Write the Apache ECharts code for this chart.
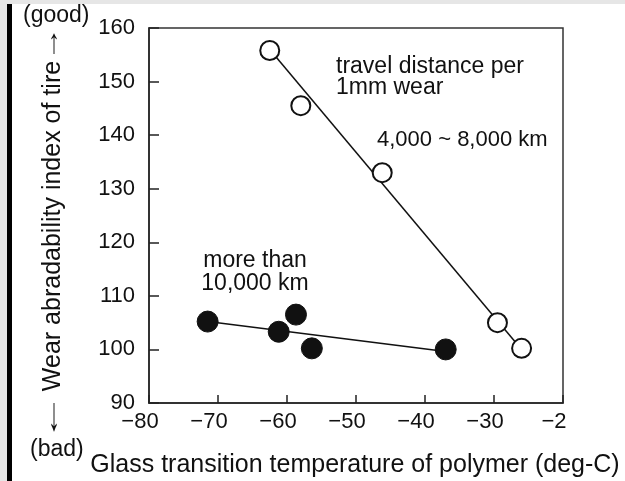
<!DOCTYPE html>
<html>
<head>
<meta charset="utf-8">
<script src="https://cdn.jsdelivr.net/npm/echarts@6/dist/echarts.min.js"></script>
<style>
html,body{margin:0;padding:0;background:#fff;}
#c{width:625px;height:481px;}
</style>
</head>
<body>
<div id="c"></div>
<script>
// ---- data ----
var openPoints = [[-62.5,155.8],[-58,145.5],[-46.2,133],[-29.5,105],[-26,100.2]];
var filledPoints = [[-71.5,105.2],[-61.2,103.3],[-58.7,106.5],[-56.4,100.2],[-37,100]];
var openFit = [[-62.5,156],[-26,100]];
var filledFit = [[-71.5,105.2],[-37,99.6]];
var xTickValues = [-80,-70,-60,-50,-40,-30,-20];
var xTickLabels = ['\u221280','\u221270','\u221260','\u221250','\u221240','\u221230','\u22122'];
var yTickValues = [90,100,110,120,130,140,150,160];
var yTickLabels = ['90','100','110','120','130','140','150','160'];
var yTitle = 'Wear abradability index of tire';
var upArrow = '\u2191';
var downArrow = '\u2193';
var xTitle = 'Glass transition temperature of polymer (deg-C)';
var goodLabel = '(good)';
var badLabel = '(bad)';
var annOpen1 = 'travel distance per\n1mm wear';
var annOpen2 = '4,000 ~ 8,000 km';
var annFilled = 'more than\n10,000 km';

var font = 'Liberation Sans, Arial, sans-serif';
var chart = echarts.init(document.getElementById('c'), null, {renderer:'canvas'});
chart.setOption({
  animation:false,
  backgroundColor:'#fff',
  grid:{left:149,right:62,top:28,bottom:78,show:true,borderColor:'#333',borderWidth:1.5,backgroundColor:'transparent'},
  xAxis:{type:'value',min:-80,max:-20,interval:10,
    axisLine:{show:true,onZero:false,lineStyle:{color:'#222',width:1.5}},
    axisTick:{show:true,inside:true,length:8,lineStyle:{color:'#222',width:1.5}},
    splitLine:{show:false},
    axisLabel:{color:'#111',fontFamily:font,fontSize:22,margin:8,padding:[0,18,0,0],
      formatter:function(v){var i=xTickValues.indexOf(v);return i>=0?xTickLabels[i]:'';}}
  },
  yAxis:{type:'value',min:90,max:160,interval:10,
    axisLine:{show:true,onZero:false,lineStyle:{color:'#222',width:1.5}},
    axisTick:{show:true,inside:true,length:10,lineStyle:{color:'#222',width:1.5}},
    splitLine:{show:false},
    axisLabel:{color:'#111',fontFamily:font,fontSize:22,margin:14,
      formatter:function(v){var i=yTickValues.indexOf(v);return i>=0?yTickLabels[i]:'';}}
  },
  series:[
    {type:'line',data:openFit,symbol:'none',lineStyle:{color:'#111',width:1.5},z:2,silent:true},
    {type:'line',data:filledFit,symbol:'none',lineStyle:{color:'#111',width:1.5},z:2,silent:true},
    {type:'scatter',data:openPoints,symbol:'circle',symbolSize:19,
      itemStyle:{color:'#fff',borderColor:'#111',borderWidth:2,opacity:1},z:3},
    {type:'scatter',data:filledPoints,symbol:'circle',symbolSize:21,
      itemStyle:{color:'#111',borderColor:'#111',borderWidth:1,opacity:1},z:3}
  ],
  graphic:[
    {type:'rect',shape:{x:0,y:0,width:625,height:4},style:{fill:'#e6e6e6'},silent:true},
    {type:'rect',shape:{x:0,y:0,width:7,height:481},style:{fill:'#e6e6e6'},silent:true},
    {type:'rect',shape:{x:7,y:4,width:5,height:477},style:{fill:'#000'},silent:true},
    {type:'text',x:23,y:16,style:{text:goodLabel,fontFamily:font,fontSize:23,fill:'#111',verticalAlign:'middle',align:'left'}},
    {type:'text',x:30,y:450,style:{text:badLabel,fontFamily:font,fontSize:23,fill:'#111',verticalAlign:'middle',align:'left'}},
    {type:'text',x:53,y:226,rotation:Math.PI/2,style:{text:yTitle,fontFamily:font,fontSize:25,fill:'#111',align:'center',verticalAlign:'middle'}},
    {type:'text',x:54,y:43,scaleY:1.5,style:{text:upArrow,fontFamily:font,fontSize:23,fill:'#111',align:'center',verticalAlign:'middle'}},
    {type:'text',x:54,y:417,scaleY:2.1,style:{text:downArrow,fontFamily:font,fontSize:23,fill:'#111',align:'center',verticalAlign:'middle'}},
    {type:'text',x:355,y:465,style:{text:xTitle,fontFamily:font,fontSize:25,fill:'#111',align:'center',verticalAlign:'middle'}},
    {type:'text',x:336,y:77,style:{text:annOpen1,fontFamily:font,fontSize:23,lineHeight:21,fill:'#111',align:'left',verticalAlign:'middle'}},
    {type:'text',x:377,y:140,style:{text:annOpen2,fontFamily:font,fontSize:22,fill:'#111',align:'left',verticalAlign:'middle'}},
    {type:'text',x:255,y:272,style:{text:annFilled,fontFamily:font,fontSize:23,lineHeight:23,fill:'#111',align:'center',verticalAlign:'middle'}}
  ]
});
</script>
</body>
</html>
